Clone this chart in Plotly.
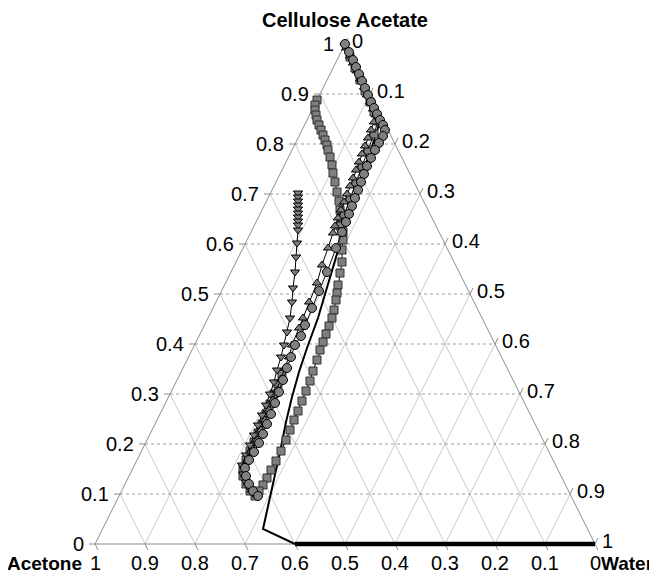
import numpy as np
import plotly.graph_objects as go

# ---- data: mass fractions ----
# CA = cellulose acetate (top vertex), Water (bottom-right vertex); Acetone = 1 - CA - Water (bottom-left)
circ_ca = [1.000, 0.984, 0.968, 0.954, 0.940, 0.926, 0.912, 0.898, 0.884, 0.872, 0.860, 0.848, 0.838, 0.828,
           0.816, 0.802, 0.788, 0.772, 0.756, 0.740, 0.724, 0.708, 0.692, 0.676, 0.660, 0.644, 0.624, 0.592,
           0.544, 0.506, 0.472, 0.438, 0.416, 0.398, 0.374, 0.352, 0.328, 0.304, 0.282, 0.260, 0.240, 0.220,
           0.202, 0.184, 0.168, 0.152, 0.136, 0.120, 0.106, 0.096]
circ_water = [0.000, 0.016, 0.032, 0.045, 0.058, 0.071, 0.084, 0.097, 0.110, 0.122, 0.134, 0.146, 0.157, 0.166,
              0.168, 0.167, 0.166, 0.166, 0.166, 0.168, 0.170, 0.172, 0.174, 0.176, 0.178, 0.180, 0.182, 0.186,
              0.192, 0.195, 0.198, 0.201, 0.204, 0.201, 0.205, 0.208, 0.212, 0.216, 0.219, 0.222, 0.224, 0.226,
              0.227, 0.226, 0.224, 0.224, 0.234, 0.248, 0.263, 0.278]

tri_ca = [0.992, 0.976, 0.962, 0.946, 0.930, 0.914, 0.898, 0.884, 0.870, 0.858, 0.844, 0.828, 0.812, 0.796,
          0.780, 0.764, 0.748, 0.732, 0.716, 0.700, 0.684, 0.668, 0.652, 0.636, 0.622, 0.592, 0.558, 0.522,
          0.484, 0.452, 0.432, 0.398, 0.374, 0.352, 0.330, 0.308, 0.288, 0.268, 0.248, 0.228, 0.208, 0.190,
          0.172, 0.156, 0.138, 0.122, 0.108, 0.098]
tri_water = [0.006, 0.022, 0.035, 0.051, 0.065, 0.081, 0.095, 0.108, 0.121, 0.133, 0.136, 0.138, 0.140, 0.142,
             0.144, 0.146, 0.148, 0.150, 0.152, 0.154, 0.156, 0.158, 0.160, 0.162, 0.165, 0.170, 0.175, 0.183,
             0.186, 0.190, 0.192, 0.195, 0.201, 0.204, 0.207, 0.210, 0.212, 0.214, 0.216, 0.218, 0.220, 0.221,
             0.220, 0.220, 0.231, 0.245, 0.260, 0.275]

dtri_ca = [0.702, 0.694, 0.686, 0.678, 0.670, 0.662, 0.654, 0.646, 0.638, 0.628, 0.602, 0.574, 0.544, 0.512,
           0.484, 0.452, 0.424, 0.398, 0.374, 0.348, 0.324, 0.300, 0.278, 0.258, 0.238, 0.218, 0.198, 0.178,
           0.158, 0.140, 0.124, 0.110, 0.100]
dtri_water = [0.055, 0.059, 0.063, 0.067, 0.071, 0.075, 0.079, 0.083, 0.087, 0.092, 0.103, 0.115, 0.128, 0.140,
              0.152, 0.164, 0.172, 0.179, 0.185, 0.190, 0.196, 0.200, 0.203, 0.205, 0.207, 0.209, 0.211, 0.213,
              0.215, 0.226, 0.240, 0.255, 0.270]

sq_ca = [0.888, 0.878, 0.868, 0.858, 0.848, 0.838, 0.828, 0.818, 0.808, 0.798, 0.788, 0.774, 0.758, 0.742,
         0.724, 0.704, 0.686, 0.668, 0.652, 0.638, 0.624, 0.608, 0.588, 0.564, 0.542, 0.518, 0.502, 0.488,
         0.468, 0.452, 0.436, 0.420, 0.404, 0.388, 0.368, 0.346, 0.326, 0.306, 0.286, 0.266, 0.248, 0.228,
         0.208, 0.186, 0.166, 0.148, 0.132, 0.118, 0.106, 0.096, 0.106, 0.120, 0.136, 0.152, 0.168, 0.186,
         0.204, 0.222, 0.240, 0.260, 0.280, 0.300, 0.320, 0.340]
sq_water = [0.000, 0.001, 0.006, 0.013, 0.020, 0.029, 0.038, 0.047, 0.056, 0.065, 0.072, 0.083, 0.095, 0.105,
            0.118, 0.132, 0.145, 0.156, 0.166, 0.175, 0.184, 0.192, 0.200, 0.212, 0.219, 0.227, 0.233, 0.238,
            0.244, 0.248, 0.250, 0.252, 0.254, 0.256, 0.260, 0.263, 0.267, 0.269, 0.271, 0.273, 0.274, 0.276,
            0.278, 0.279, 0.279, 0.278, 0.278, 0.277, 0.275, 0.272, 0.257, 0.242, 0.228, 0.220, 0.218, 0.217,
            0.216, 0.215, 0.214, 0.212, 0.210, 0.208, 0.206, 0.204]

sq2_ca = [0.974, 0.952, 0.928, 0.906, 0.884, 0.864, 0.846, 0.820, 0.788, 0.756, 0.724, 0.692, 0.660, 0.636]
sq2_water = [0.023, 0.044, 0.066, 0.087, 0.108, 0.126, 0.143, 0.148, 0.152, 0.156, 0.160, 0.164, 0.168, 0.172]

line_ca = [1.000, 0.972, 0.938, 0.904, 0.872, 0.848, 0.818, 0.772, 0.728, 0.682, 0.614, 0.532, 0.452, 0.392,
           0.344, 0.294, 0.244, 0.184, 0.140, 0.098, 0.030, 0.000]
line_water = [0.000, 0.028, 0.061, 0.094, 0.124, 0.146, 0.153, 0.160, 0.166, 0.173, 0.187, 0.204, 0.220, 0.228,
              0.236, 0.247, 0.260, 0.278, 0.290, 0.301, 0.321, 0.400]

bath_ca = [0.0, 0.0]
bath_water = [0.4, 1.0]

tick_vals = [0.0, 0.1, 0.2, 0.3, 0.4, 0.5, 0.6, 0.7, 0.8, 0.9, 1.0]
tick_text = ["0", "0.1", "0.2", "0.3", "0.4", "0.5", "0.6", "0.7", "0.8", "0.9", "1"]
title_top = "Cellulose Acetate"
title_left = "Acetone"
title_right = "Water"

FONT = "Liberation Sans, Arial, sans-serif"


def proj(ca, water):
    """ternary (CA, Water) -> plane coordinates of the XY chart"""
    ca = np.asarray(ca, dtype=float)
    water = np.asarray(water, dtype=float)
    return water + ca / 2.0, ca


fig = go.Figure()


def seg_trace(segs, color, width, dash="solid"):
    xs, ys = [], []
    for (a0, w0), (a1, w1) in segs:
        x, y = proj([a0, a1], [w0, w1])
        xs += list(x) + [None]
        ys += list(y) + [None]
    fig.add_trace(go.Scatter(x=xs, y=ys, mode="lines", hoverinfo="skip",
                             line=dict(color=color, width=width, dash=dash)))


inner = tick_vals[1:-1]
# Acetone gridlines (acetone constant): bottom point (ca=0, water=t) to left edge (ca=t, water=0)
seg_trace([((0.0, t), (t, 0.0)) for t in inner], "#c8c8c8", 1)
# Water gridlines (water constant): bottom point to right edge
seg_trace([((0.0, t), (1 - t, t)) for t in inner], "#c8c8c8", 1)
# CA gridlines (horizontal, dotted)
seg_trace([((t, 0.0), (t, 1 - t)) for t in inner], "#9a9a9a", 1, "dot")
# triangle outline
seg_trace([((0, 0), (1, 0)), ((1, 0), (0, 1)), ((0, 1), (0, 0))], "#8c8c8c", 1)

# tick marks
d = 0.012
tx, ty = [], []
for t in tick_vals:
    x0, y0 = proj([t], [0.0])             # left edge (CA)
    tx += [x0[0] - d, x0[0], None]; ty += [y0[0], y0[0], None]
    x1, y1 = proj([0.0], [1 - t])         # bottom edge (Acetone)
    tx += [x1[0], x1[0] + d / 2, None]; ty += [y1[0], y1[0] - d, None]
    x2, y2 = proj([1 - t], [t])           # right edge (Water)
    tx += [x2[0], x2[0] + d / 2, None]; ty += [y2[0], y2[0] + d, None]
fig.add_trace(go.Scatter(x=tx, y=ty, mode="lines", hoverinfo="skip",
                         line=dict(color="#8c8c8c", width=1)))

# ---- data series ----
x, y = proj(line_ca, line_water)
fig.add_trace(go.Scatter(x=x, y=y, mode="lines", line=dict(color="black", width=2)))
x, y = proj(bath_ca, bath_water)
fig.add_trace(go.Scatter(x=x, y=y, mode="lines", line=dict(color="black", width=4.5)))

mk_line = dict(color="black", width=1)
sq_marker = dict(symbol="square", size=8, color="#7f7f7f", line=dict(color="#303030", width=1))
x, y = proj(sq_ca, sq_water)
fig.add_trace(go.Scatter(x=x, y=y, mode="lines+markers", line=dict(color="black", width=1), marker=sq_marker))
x, y = proj(sq2_ca, sq2_water)
fig.add_trace(go.Scatter(x=x, y=y, mode="lines+markers", line=dict(color="black", width=1), marker=sq_marker))
x, y = proj(dtri_ca, dtri_water)
fig.add_trace(go.Scatter(x=x, y=y, mode="lines+markers", line=dict(color="black", width=1),
                         marker=dict(symbol="triangle-down", size=8, color="#7f7f7f", line=mk_line)))
x, y = proj(tri_ca, tri_water)
fig.add_trace(go.Scatter(x=x, y=y, mode="lines+markers", line=dict(color="black", width=1),
                         marker=dict(symbol="triangle-up", size=8, color="#7f7f7f", line=mk_line)))
x, y = proj(circ_ca, circ_water)
fig.add_trace(go.Scatter(x=x, y=y, mode="lines+markers", line=dict(color="black", width=1),
                         marker=dict(symbol="circle", size=9, color="#7f7f7f", line=mk_line)))

# ---- tick labels ----
ann = []
tf = dict(family=FONT, size=20, color="black")
for v, s in zip(tick_vals, tick_text):
    xl, yl = proj([v], [0.0])           # CA on left edge
    ann.append(dict(x=xl[0], y=yl[0], text=s, xanchor="right", yanchor="middle", xshift=-9, yshift=0,
                    showarrow=False, font=tf))
    xb, yb = proj([0.0], [1 - v])       # Acetone on bottom edge
    ann.append(dict(x=xb[0], y=yb[0], text=s, xanchor="center", yanchor="middle", xshift=0, yshift=-19,
                    showarrow=False, font=tf))
    xr, yr = proj([1 - v], [v])         # Water on right edge
    ann.append(dict(x=xr[0], y=yr[0], text=s, xanchor="left", yanchor="middle", xshift=5, yshift=3,
                    showarrow=False, font=tf))

xt, yt = proj([1.0], [0.0])
ann.append(dict(x=xt[0], y=yt[0], text="<b>" + title_top + "</b>", xanchor="center", yanchor="middle",
                yshift=24, showarrow=False, font=dict(family=FONT, size=20, color="black")))
sf = dict(family=FONT, size=19, color="black")
xa, ya = proj([0.0], [0.0])
ann.append(dict(x=xa[0], y=ya[0], text="<b>" + title_left + "</b>", xanchor="right", yanchor="middle",
                xshift=-11, yshift=-19, showarrow=False, font=sf))
xw, yw = proj([0.0], [1.0])
ann.append(dict(x=xw[0], y=yw[0], text="<b>" + title_right + "</b>", xanchor="left", yanchor="middle",
                xshift=4, yshift=-19, showarrow=False, font=sf))

# page body has an 8px margin; plot 500 px per unit, vertex positions as in the reference
fig.update_layout(
    width=649, height=569,
    margin=dict(l=0, r=0, t=0, b=0),
    paper_bgcolor="white", plot_bgcolor="white",
    showlegend=False,
    annotations=ann,
    xaxis=dict(range=[-0.174, 1.124], visible=False, fixedrange=True),
    yaxis=dict(range=[-0.066, 1.072], visible=False, fixedrange=True),
)

fig.write_html("out.html")
